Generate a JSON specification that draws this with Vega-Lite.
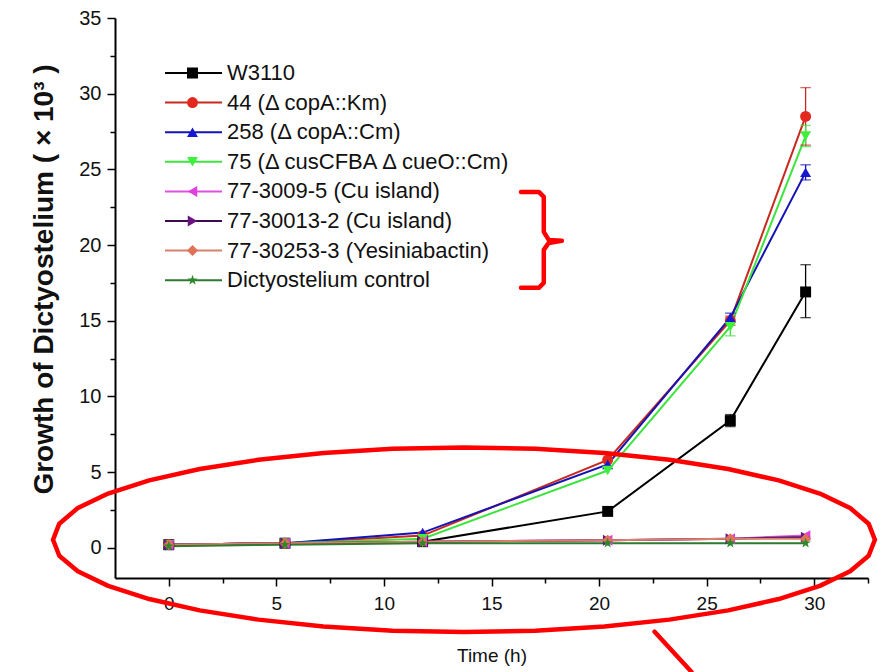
{
  "$schema": "https://vega.github.io/schema/vega-lite/v6.json",
  "width": 753,
  "height": 560,
  "autosize": {"type": "none"},
  "padding": {"left": 115, "top": 18, "right": 15, "bottom": 94},
  "background": "white",
  "config": {
    "view": {"stroke": null},
    "font": "Liberation Sans",
    "axis": {
      "grid": false,
      "domainColor": "#000",
      "domainWidth": 2,
      "tickColor": "#000",
      "tickWidth": 1.5,
      "labelColor": "#111",
      "titleColor": "#111",
      "labelFont": "Liberation Sans",
      "titleFont": "Liberation Sans"
    }
  },
  "datasets": {
    "main": [
      {"t": 0, "strain": "W3110", "v": 0.2},
      {"t": 5.4, "strain": "W3110", "v": 0.3},
      {"t": 11.8, "strain": "W3110", "v": 0.4},
      {"t": 20.4, "strain": "W3110", "v": 2.4},
      {"t": 26.1, "strain": "W3110", "v": 8.4},
      {"t": 29.6, "strain": "W3110", "v": 16.9},
      {"t": 0, "strain": "44 (Δ copA::Km)", "v": 0.2},
      {"t": 5.4, "strain": "44 (Δ copA::Km)", "v": 0.3},
      {"t": 11.8, "strain": "44 (Δ copA::Km)", "v": 0.8},
      {"t": 20.4, "strain": "44 (Δ copA::Km)", "v": 5.8},
      {"t": 26.1, "strain": "44 (Δ copA::Km)", "v": 15.0},
      {"t": 29.6, "strain": "44 (Δ copA::Km)", "v": 28.5},
      {"t": 0, "strain": "258 (Δ copA::Cm)", "v": 0.2},
      {"t": 5.4, "strain": "258 (Δ copA::Cm)", "v": 0.3},
      {"t": 11.8, "strain": "258 (Δ copA::Cm)", "v": 1.0},
      {"t": 20.4, "strain": "258 (Δ copA::Cm)", "v": 5.5},
      {"t": 26.1, "strain": "258 (Δ copA::Cm)", "v": 15.2},
      {"t": 29.6, "strain": "258 (Δ copA::Cm)", "v": 24.8},
      {"t": 0, "strain": "75 (Δ cusCFBA Δ cueO::Cm)", "v": 0.2},
      {"t": 5.4, "strain": "75 (Δ cusCFBA Δ cueO::Cm)", "v": 0.3},
      {"t": 11.8, "strain": "75 (Δ cusCFBA Δ cueO::Cm)", "v": 0.6},
      {"t": 20.4, "strain": "75 (Δ cusCFBA Δ cueO::Cm)", "v": 5.1},
      {"t": 26.1, "strain": "75 (Δ cusCFBA Δ cueO::Cm)", "v": 14.6},
      {"t": 29.6, "strain": "75 (Δ cusCFBA Δ cueO::Cm)", "v": 27.2},
      {"t": 0, "strain": "77-3009-5 (Cu island)", "v": 0.2},
      {"t": 5.4, "strain": "77-3009-5 (Cu island)", "v": 0.3},
      {"t": 11.8, "strain": "77-3009-5 (Cu island)", "v": 0.4},
      {"t": 20.4, "strain": "77-3009-5 (Cu island)", "v": 0.5},
      {"t": 26.1, "strain": "77-3009-5 (Cu island)", "v": 0.6},
      {"t": 29.6, "strain": "77-3009-5 (Cu island)", "v": 0.8},
      {"t": 0, "strain": "77-30013-2 (Cu island)", "v": 0.2},
      {"t": 5.4, "strain": "77-30013-2 (Cu island)", "v": 0.3},
      {"t": 11.8, "strain": "77-30013-2 (Cu island)", "v": 0.4},
      {"t": 20.4, "strain": "77-30013-2 (Cu island)", "v": 0.5},
      {"t": 26.1, "strain": "77-30013-2 (Cu island)", "v": 0.6},
      {"t": 29.6, "strain": "77-30013-2 (Cu island)", "v": 0.7},
      {"t": 0, "strain": "77-30253-3 (Yesiniabactin)", "v": 0.2},
      {"t": 5.4, "strain": "77-30253-3 (Yesiniabactin)", "v": 0.3},
      {"t": 11.8, "strain": "77-30253-3 (Yesiniabactin)", "v": 0.4},
      {"t": 20.4, "strain": "77-30253-3 (Yesiniabactin)", "v": 0.5},
      {"t": 26.1, "strain": "77-30253-3 (Yesiniabactin)", "v": 0.6},
      {"t": 29.6, "strain": "77-30253-3 (Yesiniabactin)", "v": 0.6},
      {"t": 0, "strain": "Dictyostelium control", "v": 0.1},
      {"t": 5.4, "strain": "Dictyostelium control", "v": 0.2},
      {"t": 11.8, "strain": "Dictyostelium control", "v": 0.3},
      {"t": 20.4, "strain": "Dictyostelium control", "v": 0.3},
      {"t": 26.1, "strain": "Dictyostelium control", "v": 0.3},
      {"t": 29.6, "strain": "Dictyostelium control", "v": 0.3}
    ],
    "err": [
      {"t": 26.1, "strain": "W3110", "lo": 8.0, "hi": 8.8},
      {"t": 29.6, "strain": "W3110", "lo": 15.2, "hi": 18.7},
      {"t": 26.1, "strain": "44 (Δ copA::Km)", "lo": 14.7, "hi": 15.3},
      {"t": 29.6, "strain": "44 (Δ copA::Km)", "lo": 26.6, "hi": 30.4},
      {"t": 26.1, "strain": "258 (Δ copA::Cm)", "lo": 14.9, "hi": 15.5},
      {"t": 29.6, "strain": "258 (Δ copA::Cm)", "lo": 24.3, "hi": 25.3},
      {"t": 26.1, "strain": "75 (Δ cusCFBA Δ cueO::Cm)", "lo": 14.0, "hi": 15.2},
      {"t": 29.6, "strain": "75 (Δ cusCFBA Δ cueO::Cm)", "lo": 26.5, "hi": 27.9}
    ],
    "ann": [
      {"g": "ellipse", "i": 0, "t": 32.82, "v": 0.53},
      {"g": "ellipse", "i": 1, "t": 32.53, "v": 1.59},
      {"g": "ellipse", "i": 2, "t": 31.67, "v": 2.62},
      {"g": "ellipse", "i": 3, "t": 30.26, "v": 3.58},
      {"g": "ellipse", "i": 4, "t": 28.35, "v": 4.45},
      {"g": "ellipse", "i": 5, "t": 26.0, "v": 5.2},
      {"g": "ellipse", "i": 6, "t": 23.27, "v": 5.81},
      {"g": "ellipse", "i": 7, "t": 20.25, "v": 6.26},
      {"g": "ellipse", "i": 8, "t": 17.04, "v": 6.54},
      {"g": "ellipse", "i": 9, "t": 13.72, "v": 6.63},
      {"g": "ellipse", "i": 10, "t": 10.4, "v": 6.54},
      {"g": "ellipse", "i": 11, "t": 7.19, "v": 6.26},
      {"g": "ellipse", "i": 12, "t": 4.17, "v": 5.81},
      {"g": "ellipse", "i": 13, "t": 1.44, "v": 5.2},
      {"g": "ellipse", "i": 14, "t": -0.91, "v": 4.45},
      {"g": "ellipse", "i": 15, "t": -2.82, "v": 3.58},
      {"g": "ellipse", "i": 16, "t": -4.23, "v": 2.62},
      {"g": "ellipse", "i": 17, "t": -5.09, "v": 1.59},
      {"g": "ellipse", "i": 18, "t": -5.38, "v": 0.53},
      {"g": "ellipse", "i": 19, "t": -5.09, "v": -0.53},
      {"g": "ellipse", "i": 20, "t": -4.23, "v": -1.56},
      {"g": "ellipse", "i": 21, "t": -2.82, "v": -2.52},
      {"g": "ellipse", "i": 22, "t": -0.91, "v": -3.39},
      {"g": "ellipse", "i": 23, "t": 1.44, "v": -4.14},
      {"g": "ellipse", "i": 24, "t": 4.17, "v": -4.75},
      {"g": "ellipse", "i": 25, "t": 7.19, "v": -5.2},
      {"g": "ellipse", "i": 26, "t": 10.4, "v": -5.48},
      {"g": "ellipse", "i": 27, "t": 13.72, "v": -5.57},
      {"g": "ellipse", "i": 28, "t": 17.04, "v": -5.48},
      {"g": "ellipse", "i": 29, "t": 20.25, "v": -5.2},
      {"g": "ellipse", "i": 30, "t": 23.27, "v": -4.75},
      {"g": "ellipse", "i": 31, "t": 26.0, "v": -4.14},
      {"g": "ellipse", "i": 32, "t": 28.35, "v": -3.39},
      {"g": "ellipse", "i": 33, "t": 30.26, "v": -2.52},
      {"g": "ellipse", "i": 34, "t": 31.67, "v": -1.56},
      {"g": "ellipse", "i": 35, "t": 32.53, "v": -0.53},
      {"g": "ellipse", "i": 36, "t": 32.82, "v": 0.53},
      {"g": "bracket", "i": 0, "t": 16.37, "v": 23.51},
      {"g": "bracket", "i": 1, "t": 17.2, "v": 23.51},
      {"g": "bracket", "i": 2, "t": 17.43, "v": 23.18},
      {"g": "bracket", "i": 3, "t": 17.43, "v": 20.87},
      {"g": "bracket", "i": 4, "t": 17.66, "v": 20.34},
      {"g": "bracket", "i": 5, "t": 18.27, "v": 20.28},
      {"g": "bracket", "i": 6, "t": 17.66, "v": 20.14},
      {"g": "bracket", "i": 7, "t": 17.43, "v": 19.68},
      {"g": "bracket", "i": 8, "t": 17.43, "v": 17.5},
      {"g": "bracket", "i": 9, "t": 17.2, "v": 17.17},
      {"g": "bracket", "i": 10, "t": 16.37, "v": 17.17},
      {"g": "slash", "i": 0, "t": 22.58, "v": -5.55},
      {"g": "slash", "i": 1, "t": 24.29, "v": -8.19}
    ]
  },
  "data": {"name": "main"},
  "encoding": {
    "x": {
      "field": "t", "type": "quantitative",
      "scale": {"domain": [-2.5, 32.5], "nice": false, "zero": false},
      "axis": {
        "title": "Time (h)",
        "values": [0, 2.5, 5, 7.5, 10, 12.5, 15, 17.5, 20, 22.5, 25, 27.5, 30, 32.5],
        "labelExpr": "datum.value % 5 === 0 ? datum.label : ''",
        "tickSize": {"condition": {"test": "datum.value % 5 === 0", "value": 8}, "value": 5},
        "labelFontSize": 19,
        "labelPadding": 8,
        "titleFontSize": 19,
        "titleFontWeight": "normal",
        "titlePadding": 33
      }
    },
    "y": {
      "field": "v", "type": "quantitative",
      "scale": {"domain": [-2, 35], "nice": false, "zero": false},
      "axis": {
        "title": "Growth of Dictyostelium (  ×  10³  )",
        "values": [0, 2.5, 5, 7.5, 10, 12.5, 15, 17.5, 20, 22.5, 25, 27.5, 30, 32.5, 35],
        "labelExpr": "datum.value % 5 === 0 ? datum.label : ''",
        "tickSize": {"condition": {"test": "datum.value % 5 === 0", "value": 8}, "value": 5},
        "labelFontSize": 20,
        "labelPadding": 6,
        "titleFontSize": 28,
        "titleFontWeight": "bold",
        "titleY": 261,
        "titlePadding": 20
      }
    }
  },
  "layer": [
    {
      "mark": {"type": "line", "strokeWidth": 2},
      "encoding": {
        "stroke": {
          "field": "strain", "type": "nominal",
          "scale": {
            "domain": ["W3110", "44 (Δ copA::Km)", "258 (Δ copA::Cm)", "75 (Δ cusCFBA Δ cueO::Cm)", "77-3009-5 (Cu island)", "77-30013-2 (Cu island)", "77-30253-3 (Yesiniabactin)", "Dictyostelium control"],
            "range": ["#000000", "#c8281e", "#1414b4", "#3ee43e", "#e050e0", "#3c0a50", "#d8806a", "#2e7a2e"]
          },
          "legend": {
            "orient": "none", "legendX": 49, "legendY": 46, "title": null,
            "symbolType": "stroke", "symbolSize": 3249, "symbolStrokeWidth": 2,
            "clipHeight": 18, "rowPadding": 11.6, "labelExpr": "''", "labelFontSize": 18, "padding": 0
          }
        },
        "order": {"field": "t", "type": "quantitative"}
      }
    },
    {
      "data": {"name": "err"},
      "mark": {"type": "rule", "strokeWidth": 1.3},
      "encoding": {
        "y": {"field": "lo", "type": "quantitative"},
        "y2": {"field": "hi"},
        "stroke": {"field": "strain", "type": "nominal", "legend": null}
      }
    },
    {
      "data": {"name": "err"},
      "mark": {"type": "point", "shape": "stroke", "size": 110, "strokeWidth": 1.3},
      "encoding": {
        "y": {"field": "lo", "type": "quantitative"},
        "stroke": {"field": "strain", "type": "nominal", "legend": null}
      }
    },
    {
      "data": {"name": "err"},
      "mark": {"type": "point", "shape": "stroke", "size": 110, "strokeWidth": 1.3},
      "encoding": {
        "y": {"field": "hi", "type": "quantitative"},
        "stroke": {"field": "strain", "type": "nominal", "legend": null}
      }
    },
    {
      "mark": {"type": "point", "filled": true, "size": 120, "opacity": 1, "strokeWidth": 0},
      "encoding": {
        "fill": {
          "field": "strain", "type": "nominal", "sort": null,
          "scale": {
            "range": ["#000000", "#e3281e", "#1818d0", "#3cf03c", "#e040e0", "#6a1480", "#e07258", "#2a8a2a"]
          },
          "legend": {
            "orient": "none", "legendX": 66.5, "legendY": 46, "title": null,
            "symbolSize": 120, "symbolStrokeWidth": 0, "clipHeight": 18, "rowPadding": 7.6,
            "labelOffset": 23.5, "labelFontSize": 22, "labelLimit": 500, "labelFont": "Liberation Sans", "labelColor": "#111", "padding": 0
          }
        },
        "shape": {
          "field": "strain", "type": "nominal", "sort": null,
          "scale": {
            "range": ["square", "circle", "triangle-up", "triangle-down", "triangle-left", "triangle-right", "diamond", "M0,-1L0.2245,-0.309L0.951,-0.309L0.363,0.118L0.588,0.809L0,0.382L-0.588,0.809L-0.363,0.118L-0.951,-0.309L-0.2245,-0.309Z"]
          }
        }
      }
    },
    {
      "data": {"name": "ann"},
      "mark": {"type": "line", "stroke": "#ff0000", "strokeWidth": 4.5, "strokeCap": "round", "strokeJoin": "round", "interpolate": "linear"},
      "encoding": {
        "detail": {"field": "g", "type": "nominal"},
        "order": {"field": "i", "type": "quantitative"}
      }
    }
  ]
}
